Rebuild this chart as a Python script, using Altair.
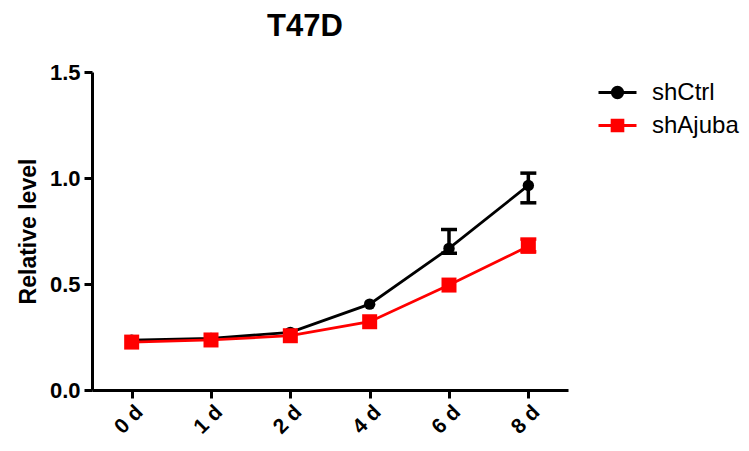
import altair as alt
import pandas as pd

days = ["0 d", "1 d", "2 d", "4 d", "6 d", "8 d"]
series_names = ["shCtrl", "shAjuba"]
ctrl_mean = [0.235, 0.243, 0.272, 0.405, 0.668, 0.965]
ctrl_low = [0.225, 0.233, 0.262, 0.395, 0.645, 0.883]
ctrl_high = [0.245, 0.253, 0.282, 0.415, 0.757, 1.023]
ajuba_mean = [0.226, 0.236, 0.256, 0.322, 0.495, 0.678]
ajuba_low = [0.216, 0.226, 0.246, 0.312, 0.485, 0.652]
ajuba_high = [0.236, 0.246, 0.266, 0.332, 0.505, 0.712]
colors = ["#000000", "#ff0000"]

rows = []
for name, m, lo, hi in [("shCtrl", ctrl_mean, ctrl_low, ctrl_high),
                        ("shAjuba", ajuba_mean, ajuba_low, ajuba_high)]:
    for d, a, b, c in zip(days, m, lo, hi):
        rows.append({"day": d, "series": name, "mean": a, "lo": b, "hi": c})
df = pd.DataFrame(rows)

FONT = "Liberation Sans"

color_scale = alt.Scale(domain=series_names, range=colors)
legend_paths = [
    "M-1,0H1M-0.27,0A0.27,0.27 0 1,0 0.27,0A0.27,0.27 0 1,0 -0.27,0Z",
    "M-1,0H1M-0.28,-0.28H0.28V0.28H-0.28Z",
]
shape_scale = alt.Scale(domain=series_names, range=legend_paths)

x_enc = alt.X("day:N", sort=days, scale=alt.Scale(type="point", padding=0.5),
              axis=alt.Axis(title=None, labelAngle=-45, labelFontSize=21,
                            labelFontWeight="bold", labelPadding=3))
y_enc = alt.Y("mean:Q", scale=alt.Scale(domain=[0, 1.5], nice=False),
              axis=alt.Axis(title="Relative level", values=[0, 0.5, 1.0, 1.5],
                            format=".1f", labelFontSize=22, labelFontWeight="bold",
                            titleFontSize=23, titleFontWeight="bold",
                            titlePadding=9, grid=False, labelPadding=4))

base = alt.Chart(df)

legend = alt.Legend(title=None, orient="none", legendX=505, legendY=0,
                    symbolSize=1444, labelFontSize=24, labelFont=FONT,
                    labelOffset=14, rowPadding=0, padding=0,
                    symbolStrokeWidth=3, symbolOpacity=1)

col = alt.Color("series:N", scale=color_scale, legend=legend)

lines = base.mark_line(strokeWidth=2.8).encode(
    x=x_enc, y=y_enc, color=col, detail="series:N",
)

errs = base.transform_filter("datum.hi - datum.lo > 0.03")

rules = errs.mark_rule(strokeWidth=3.5, opacity=1).encode(
    x=alt.X("day:N", sort=days), y="lo:Q", y2="hi:Q", color=col,
)
cap_lo = errs.mark_tick(thickness=3.5, size=16, opacity=1).encode(
    x=alt.X("day:N", sort=days), y="lo:Q", color=col,
)
cap_hi = errs.mark_tick(thickness=3.5, size=16, opacity=1).encode(
    x=alt.X("day:N", sort=days), y="hi:Q", color=col,
)

pts_ctrl = base.transform_filter(alt.datum.series == "shCtrl").mark_point(
    filled=True, opacity=1, size=130, shape="circle").encode(
    x=alt.X("day:N", sort=days), y="mean:Q", color=col,
)
pts_ajuba = base.transform_filter(alt.datum.series == "shAjuba").mark_point(
    filled=True, opacity=1, size=225, shape="square").encode(
    x=alt.X("day:N", sort=days), y="mean:Q", color=col,
)

legend_layer = base.transform_filter("false").mark_point(filled=True, size=1444, strokeWidth=3).encode(
    x=alt.X("day:N", sort=days), y="mean:Q",
    color=col,
    stroke=alt.Stroke("series:N", scale=color_scale, legend=legend),
    shape=alt.Shape("series:N", scale=shape_scale, legend=legend),
)

chart = alt.layer(lines, rules, cap_lo, cap_hi, pts_ctrl, pts_ajuba, legend_layer).properties(
    width=476, height=318,
    title=alt.TitleParams("T47D", fontSize=31, fontWeight="bold", font=FONT,
                          dx=-25, offset=18),
    autosize=alt.AutoSizeParams(type="none"),
    padding={"left": 84, "top": 64, "right": 173, "bottom": 53},
).configure(font=FONT).configure_axis(
    domainColor="black", domainWidth=3, tickColor="black", tickWidth=3,
    tickSize=8, labelColor="black", titleColor="black", labelFont=FONT, titleFont=FONT,
).configure_view(stroke=None)

chart.save("out.html", embed_options={"renderer": "svg", "actions": False})
